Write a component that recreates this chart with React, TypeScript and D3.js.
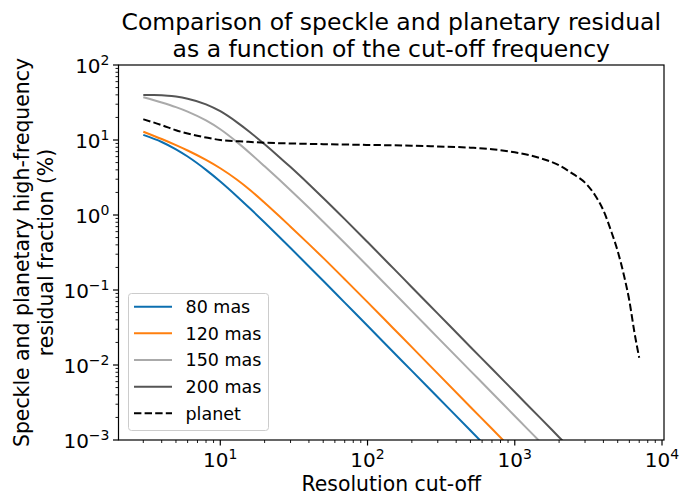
import * as d3 from "d3";

// cut-off frequencies where the speckle residuals were read
const cutoff = [3, 4, 5, 6, 8, 10, 13, 16, 20, 25, 30, 40, 50, 70, 100, 150, 200, 300, 500, 700, 1000, 1500, 2000, 3000];
const mas80 = [11.7, 9.41, 7.51, 6.02, 4.0, 2.8, 1.77, 1.21, 0.796, 0.518, 0.363, 0.206, 0.133, 0.0679, 0.0333, 0.0148, 0.00835, 0.00371, 0.00134, 0.00068, 0.000334, 0.000148, 0.0000835, 0.000037];
const mas120 = [12.9, 10.3, 8.53, 7.24, 5.43, 4.2, 2.95, 2.14, 1.46, 0.978, 0.699, 0.409, 0.268, 0.139, 0.069, 0.0307, 0.0173, 0.00767, 0.00276, 0.00141, 0.00069, 0.000307, 0.000173, 0.0000767];
const mas150 = [37.1, 31.6, 27.4, 23.9, 18.2, 13.9, 9.37, 6.61, 4.46, 2.99, 2.14, 1.25, 0.815, 0.423, 0.209, 0.0929, 0.0523, 0.0232, 0.00836, 0.00427, 0.00209, 0.00093, 0.000523, 0.000232];
const mas200 = [39.8, 39.6, 37.9, 35.5, 29.9, 24.2, 17.2, 12.6, 8.77, 6.0, 4.35, 2.57, 1.69, 0.882, 0.436, 0.194, 0.109, 0.0484, 0.0174, 0.0089, 0.00436, 0.00194, 0.00109, 0.000484];

// planet residual
const planetCutoff = [3, 4, 5, 6, 8, 10, 15, 20, 30, 50, 100, 200, 300, 500, 700, 1000, 1500, 2000, 2500, 3000, 3500, 4000, 4500, 5000, 5500, 6000, 6500, 7000];
const planet = [18.9, 15.8, 13.5, 12.2, 10.8, 10.0, 9.5, 9.2, 9.0, 8.8, 8.6, 8.4, 8.2, 7.9, 7.55, 6.85, 5.7, 4.6, 3.5, 2.7, 1.85, 1.15, 0.62, 0.33, 0.16, 0.072, 0.027, 0.0125];

const seriesNames = ["80 mas", "120 mas", "150 mas", "200 mas"];
const seriesColors = ["#0c6fb0", "#ff7f0e", "#aaaaaa", "#555555"];
const yTickExps = [-3, -2, -1, 0, 1, 2];
const xTickExps = [1, 2, 3, 4];

const W = 691;
const H = 495;
const mL = 118.5, mR = 664, mT = 65, mB = 440;
const font = "DejaVu Sans, sans-serif";

export default function App() {
  const allX = [...cutoff, ...planetCutoff];
  const lo = Math.log10(d3.min(allX)!);
  const hi = Math.log10(d3.max(allX)!);
  const pad = (hi - lo) * 0.05;
  const x = d3.scaleLog([10 ** (lo - pad), 10 ** (hi + pad)], [mL, mR]);
  const y = d3.scaleLog([1e-3, 1e2], [mB, mT]);

  const line = d3
    .line<[number, number]>()
    .x((d) => x(d[0]))
    .y((d) => y(d[1]))
    .curve(d3.curveMonotoneX);

  const speckle = [mas80, mas120, mas150, mas200];

  const xMinor: number[] = [];
  for (let e = 0; e <= 4; e++)
    for (let m = 2; m <= 9; m++) {
      const v = m * 10 ** e;
      if (v >= x.domain()[0] && v <= x.domain()[1]) xMinor.push(v);
    }
  const yMinor: number[] = [];
  for (let e = -3; e < 2; e++) for (let m = 2; m <= 9; m++) yMinor.push(m * 10 ** e);

  const legendRows = [...seriesNames, "planet"];

  return (
    <svg width={W} height={H} style={{ position: "absolute", left: 0, top: 0 }} fontFamily={font}>
      <rect width={W} height={H} fill="white" />
      <defs>
        <clipPath id="plot">
          <rect x={mL} y={mT} width={mR - mL} height={mB - mT} />
        </clipPath>
      </defs>

      <g clipPath="url(#plot)" fill="none">
        {speckle.map((vals, i) => (
          <path
            key={i}
            d={line(cutoff.map((c, j) => [c, vals[j]]))!}
            stroke={seriesColors[i]}
            strokeWidth={2}
          />
        ))}
        <path
          d={line(planetCutoff.map((c, j) => [c, planet[j]]))!}
          stroke="black"
          strokeWidth={2}
          strokeDasharray="7.4,3.2"
        />
      </g>

      {/* spines */}
      <rect x={mL} y={mT} width={mR - mL} height={mB - mT} fill="none" stroke="black" strokeWidth={1.2} />

      {/* x ticks */}
      {xMinor.map((v) => (
        <line key={v} x1={x(v)} x2={x(v)} y1={mB} y2={mB + 3} stroke="black" strokeWidth={0.9} />
      ))}
      {xTickExps.map((e) => (
        <g key={e} transform={`translate(${x(10 ** e)},${mB})`}>
          <line y2={5.5} stroke="black" strokeWidth={1.2} />
          <text y={27} textAnchor="middle" fontSize={20}>
            10<tspan dy={-8} fontSize={14}>{e}</tspan>
          </text>
        </g>
      ))}

      {/* y ticks */}
      {yMinor.map((v) => (
        <line key={v} x1={mL - 3} x2={mL} y1={y(v)} y2={y(v)} stroke="black" strokeWidth={0.9} />
      ))}
      {yTickExps.map((e) => (
        <g key={e} transform={`translate(${mL},${y(10 ** e)})`}>
          <line x2={-5.5} stroke="black" strokeWidth={1.2} />
          <text x={-9} y={7.5} textAnchor="end" fontSize={20}>
            10<tspan dy={-8} fontSize={14}>{e < 0 ? "\u2212" + -e : e}</tspan>
          </text>
        </g>
      ))}

      {/* labels */}
      <text x={(mL + mR) / 2} y={491} textAnchor="middle" fontSize={20.4}>
        Resolution cut-off
      </text>
      <text transform={`translate(29,${(mT + mB) / 2}) rotate(-90)`} textAnchor="middle" fontSize={20.4}>
        Speckle and planetary high-frequency
      </text>
      <text transform={`translate(53,${(mT + mB) / 2}) rotate(-90)`} textAnchor="middle" fontSize={20.4}>
        residual fraction (%)
      </text>
      <text x={(mL + mR) / 2} y={30} textAnchor="middle" fontSize={23.5}>
        Comparison of speckle and planetary residual
      </text>
      <text x={(mL + mR) / 2} y={57} textAnchor="middle" fontSize={23.5}>
        as a function of the cut-off frequency
      </text>

      {/* legend */}
      <g>
        <rect x={128.5} y={293.5} width={140} height={137} rx={3} fill="white" fillOpacity={0.8} stroke="#cccccc" strokeWidth={1} />
        {legendRows.map((name, i) => {
          const ly = 306.7 + i * 26.65;
          return (
            <g key={name}>
              <line
                x1={134}
                x2={172}
                y1={ly}
                y2={ly}
                stroke={i < 4 ? seriesColors[i] : "black"}
                strokeWidth={2}
                strokeDasharray={i < 4 ? undefined : "7.4,3.2"}
              />
              <text x={185.5} y={ly + 6.3} fontSize={17.5}>
                {name}
              </text>
            </g>
          );
        })}
      </g>
    </svg>
  );
}
